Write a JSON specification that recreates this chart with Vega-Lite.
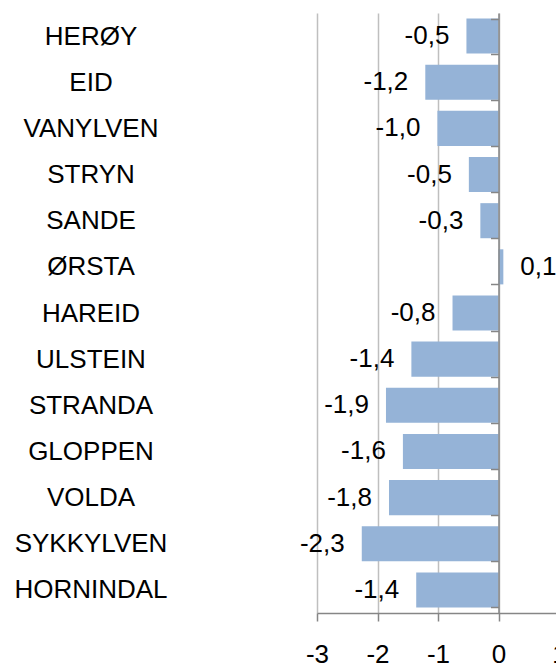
{
  "$schema": "https://vega.github.io/schema/vega-lite/v6.json",
  "width": 242,
  "height": 600,
  "autosize": {"type": "none"},
  "padding": {"left": 317, "top": 13, "right": 0, "bottom": 50},
  "background": "white",
  "config": {
    "view": {"stroke": null},
    "font": "Liberation Sans",
    "locale": {"number": {"decimal": ",", "thousands": " ", "grouping": [3], "currency": ["", " kr"], "minus": "-"}}
  },
  "data": {
    "values": [
      {"kommune": "HERØY", "value": -0.53},
      {"kommune": "EID", "value": -1.21},
      {"kommune": "VANYLVEN", "value": -1.01},
      {"kommune": "STRYN", "value": -0.49},
      {"kommune": "SANDE", "value": -0.30},
      {"kommune": "ØRSTA", "value": 0.08},
      {"kommune": "HAREID", "value": -0.76},
      {"kommune": "ULSTEIN", "value": -1.44},
      {"kommune": "STRANDA", "value": -1.86},
      {"kommune": "GLOPPEN", "value": -1.58},
      {"kommune": "VOLDA", "value": -1.81},
      {"kommune": "SYKKYLVEN", "value": -2.26},
      {"kommune": "HORNINDAL", "value": -1.36}
    ]
  },
  "encoding": {
    "y": {
      "field": "kommune",
      "type": "nominal",
      "sort": null,
      "scale": {"paddingInner": 0.24, "paddingOuter": 0.12},
      "axis": {
        "title": null,
        "orient": "left",
        "offset": -181.5,
        "zindex": 1,
        "domain": true,
        "domainColor": "#868686",
        "domainWidth": 1.5,
        "ticks": true,
        "tickBand": "extent",
        "tickSize": 8,
        "tickColor": "#868686",
        "tickWidth": 1.5,
        "grid": false,
        "labelAlign": "center",
        "labelBaseline": "middle",
        "labelPadding": 400,
        "labelFontSize": 26,
        "labelFont": "Liberation Sans",
        "labelColor": "#000000"
      }
    }
  },
  "layer": [
    {
      "mark": {"type": "bar", "color": "#95B3D7"},
      "encoding": {
        "x": {
          "field": "value",
          "type": "quantitative",
          "scale": {"domain": [-3, 1], "nice": false, "zero": false},
          "axis": {
            "title": null,
            "values": [-3, -2, -1, 0, 1],
            "format": "d",
            "grid": true,
            "gridColor": "#BFBFBF",
            "gridWidth": 1.5,
            "domainColor": "#868686",
            "domainWidth": 1.5,
            "tickColor": "#868686",
            "tickWidth": 1.5,
            "tickSize": 8,
            "labelFontSize": 26,
            "labelFont": "Liberation Sans",
            "labelColor": "#000000",
            "labelPadding": 20,
            "labelFlush": false,
            "labelOverlap": false
          }
        }
      }
    },
    {
      "transform": [{"filter": "datum.value < 0"}],
      "mark": {"type": "text", "align": "right", "baseline": "middle", "dx": -17, "fontSize": 26, "font": "Liberation Sans", "color": "#000000"},
      "encoding": {
        "x": {"field": "value", "type": "quantitative"},
        "text": {"field": "value", "type": "quantitative", "format": ".1f"}
      }
    },
    {
      "transform": [{"filter": "datum.value >= 0"}],
      "mark": {"type": "text", "align": "left", "baseline": "middle", "dx": 17, "fontSize": 26, "font": "Liberation Sans", "color": "#000000"},
      "encoding": {
        "x": {"field": "value", "type": "quantitative"},
        "text": {"field": "value", "type": "quantitative", "format": ".1f"}
      }
    }
  ]
}
